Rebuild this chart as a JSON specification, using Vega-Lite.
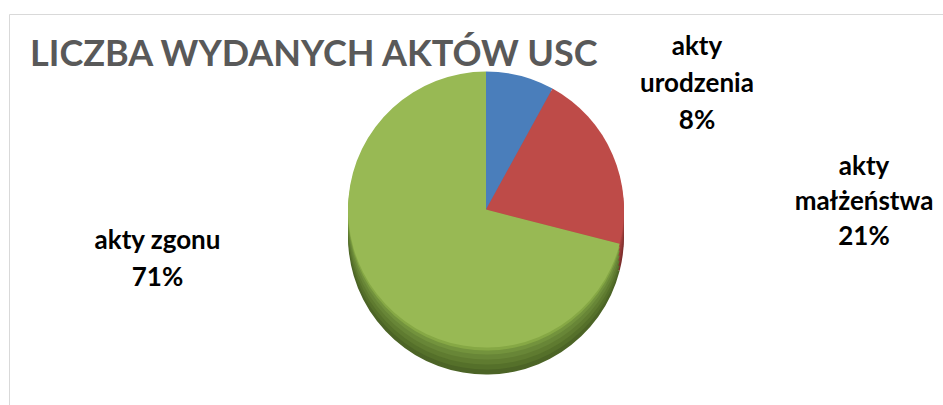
{
  "$schema": "https://vega.github.io/schema/vega-lite/v6.json",
  "autosize": {"type": "fit", "contains": "padding"},
  "width": 943,
  "height": 405,
  "padding": {"left": 9, "top": 14, "right": 0, "bottom": 0},
  "background": "white",
  "view": {"stroke": "#d9d9d9", "strokeWidth": 1},
  "title": {
    "text": "LICZBA WYDANYCH AKTÓW USC",
    "anchor": "start",
    "frame": "group",
    "orient": "none",
    "dx": 21,
    "dy": 52,
    "font": "Lato",
    "fontSize": 36,
    "fontWeight": "bold",
    "color": "#595959",
    "baseline": "alphabetic"
  },
  "data": {
    "values": [
      {"k": "u", "o": 1, "v": 8, "label": "akty\nurodzenia\n8%"},
      {"k": "m", "o": 2, "v": 21, "label": "akty\nmałżeństwa\n21%"},
      {"k": "z", "o": 3, "v": 71, "label": "akty zgonu\n71%"}
    ]
  },
  "resolve": {"scale": {"color": "independent"}},
  "layer": [
    {
      "mark": {"type": "arc", "radius": 138, "xOffset": 10, "yOffset": 27},
      "encoding": {
        "theta": {"field": "v", "type": "quantitative", "stack": true},
        "order": {"field": "o"},
        "color": {"field": "k", "type": "nominal", "legend": null, "scale": {"domain": ["u", "m", "z"], "range": ["#31557f", "#7a2d2b", "#4c6426"]}}
      }
    },
    {
      "mark": {"type": "arc", "radius": 138, "xOffset": 10, "yOffset": 22},
      "encoding": {
        "theta": {"field": "v", "type": "quantitative", "stack": true},
        "order": {"field": "o"},
        "color": {"field": "k", "type": "nominal", "legend": null, "scale": {"domain": ["u", "m", "z"], "range": ["#34598a", "#84302e", "#55702a"]}}
      }
    },
    {
      "mark": {"type": "arc", "radius": 138, "xOffset": 10, "yOffset": 17},
      "encoding": {
        "theta": {"field": "v", "type": "quantitative", "stack": true},
        "order": {"field": "o"},
        "color": {"field": "k", "type": "nominal", "legend": null, "scale": {"domain": ["u", "m", "z"], "range": ["#3a6395", "#8f3835", "#5f7b30"]}}
      }
    },
    {
      "mark": {"type": "arc", "radius": 138, "xOffset": 10, "yOffset": 12},
      "encoding": {
        "theta": {"field": "v", "type": "quantitative", "stack": true},
        "order": {"field": "o"},
        "color": {"field": "k", "type": "nominal", "legend": null, "scale": {"domain": ["u", "m", "z"], "range": ["#3e689c", "#973b38", "#688637"]}}
      }
    },
    {
      "mark": {"type": "arc", "radius": 138, "xOffset": 10, "yOffset": 7},
      "encoding": {
        "theta": {"field": "v", "type": "quantitative", "stack": true},
        "order": {"field": "o"},
        "color": {"field": "k", "type": "nominal", "legend": null, "scale": {"domain": ["u", "m", "z"], "range": ["#4170a8", "#a2403d", "#73933d"]}}
      }
    },
    {
      "mark": {"type": "arc", "radius": 138, "xOffset": 10, "yOffset": 3},
      "encoding": {
        "theta": {"field": "v", "type": "quantitative", "stack": true},
        "order": {"field": "o"},
        "color": {"field": "k", "type": "nominal", "legend": null, "scale": {"domain": ["u", "m", "z"], "range": ["#4676b1", "#ad4542", "#86a845"]}}
      }
    },
    {
      "mark": {"type": "arc", "radius": 138, "xOffset": 10, "yOffset": 0},
      "encoding": {
        "theta": {"field": "v", "type": "quantitative", "stack": true},
        "order": {"field": "o"},
        "color": {"field": "k", "type": "nominal", "legend": null, "scale": {"domain": ["u", "m", "z"], "range": ["#4a7ebb", "#be4b48", "#98b954"]}}
      }
    },
    {
      "transform": [
        {"stack": "v", "groupby": [], "sort": [{"field": "o"}], "as": ["s0", "s1"]},
        {"filter": "datum.k === 'u'"}
      ],
      "mark": {"type": "text", "radius": 266.3, "thetaOffset": 0.4119, "xOffset": 10, "font": "Lato", "fontSize": 26, "fontWeight": "bold", "lineBreak": "\n", "lineHeight": 37, "align": "center", "baseline": "middle", "color": "#000000"},
      "encoding": {
        "theta": {"field": "s1", "type": "quantitative", "stack": null, "scale": {"domain": [0, 100]}},
        "text": {"field": "label"}
      }
    },
    {
      "transform": [
        {"stack": "v", "groupby": [], "sort": [{"field": "o"}], "as": ["s0", "s1"]},
        {"filter": "datum.k === 'm'"}
      ],
      "mark": {"type": "text", "radius": 380.4, "thetaOffset": -0.3633, "xOffset": 10, "font": "Lato", "fontSize": 26, "fontWeight": "bold", "lineBreak": "\n", "lineHeight": 35, "align": "center", "baseline": "middle", "color": "#000000"},
      "encoding": {
        "theta": {"field": "s1", "type": "quantitative", "stack": null, "scale": {"domain": [0, 100]}},
        "text": {"field": "label"}
      }
    },
    {
      "transform": [
        {"stack": "v", "groupby": [], "sort": [{"field": "o"}], "as": ["s0", "s1"]},
        {"filter": "datum.k === 'z'"}
      ],
      "mark": {"type": "text", "radius": 330.0, "thetaOffset": 2.7947, "xOffset": 10, "font": "Lato", "fontSize": 26, "fontWeight": "bold", "lineBreak": "\n", "lineHeight": 37, "align": "center", "baseline": "middle", "color": "#000000"},
      "encoding": {
        "theta": {"field": "s0", "type": "quantitative", "stack": null, "scale": {"domain": [0, 100]}},
        "text": {"field": "label"}
      }
    }
  ]
}
